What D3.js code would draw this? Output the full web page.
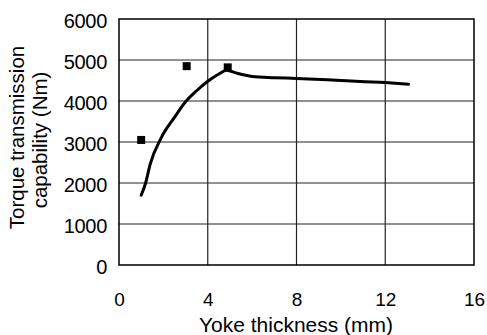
<!DOCTYPE html>
<html>
<head>
<meta charset="utf-8">
<script src="https://cdn.jsdelivr.net/npm/d3@7"></script>
<style>
body { margin: 0; background: #fff; }
text { font-family: "Liberation Sans", Arial, sans-serif; fill: #000; }
</style>
</head>
<body>
<div id="chart"></div>
<script>
"use strict";
(function() {

const WIDTH = 487
const HEIGHT = 335
const margin = { top: 19, bottom: 70, left: 119, right: 13 }

// measured points (squares)
const pointX = [1.0, 3.05, 4.9]
const pointY = [3050, 4850, 4820]

// calculated curve
const lineX = [1.0, 1.2, 1.4, 1.9, 2.5, 3.0, 3.5, 4.0, 4.5, 4.85, 5.3, 6.0, 7.0, 8.0, 10.0, 12.0, 13.05]
const lineY = [1700, 2000, 2450, 3100, 3600, 3980, 4250, 4480, 4660, 4750, 4680, 4600, 4570, 4550, 4500, 4450, 4410]

const xTicks = [0, 4, 8, 12, 16]
const yTicks = [0, 1000, 2000, 3000, 4000, 5000, 6000]

const svg = d3.select("#chart").append("svg")
    .attr("width", WIDTH)
    .attr("height", HEIGHT)

const x = d3.scaleLinear().domain([0, 16]).range([margin.left, WIDTH - margin.right])
const y = d3.scaleLinear().domain([0, 6000]).range([HEIGHT - margin.bottom, margin.top])

// grid
svg.append("g").selectAll("line").data(yTicks.slice(1, -1)).join("line")
    .attr("x1", x(0)).attr("x2", x(16))
    .attr("y1", d => y(d)).attr("y2", d => y(d))
    .attr("stroke", "#222").attr("stroke-width", 1)
svg.append("g").selectAll("line").data(xTicks.slice(1, -1)).join("line")
    .attr("y1", y(0)).attr("y2", y(6000))
    .attr("x1", d => x(d)).attr("x2", d => x(d))
    .attr("stroke", "#222").attr("stroke-width", 1.2)

// frame
svg.append("rect")
    .attr("x", x(0)).attr("y", y(6000))
    .attr("width", x(16) - x(0)).attr("height", y(0) - y(6000))
    .attr("fill", "none").attr("stroke", "#000").attr("stroke-width", 1.5)

// axes (labels only)
const xAxis = svg.append("g")
    .attr("transform", `translate(0, ${y(0) + 27})`)
    .call(d3.axisBottom(x).tickValues(xTicks).tickSize(0).tickPadding(0))
xAxis.selectAll("text").attr("dy", "0.71em").attr("y", 0).attr("font-size", "19px")
const yAxis = svg.append("g")
    .attr("transform", `translate(${x(0) - 12}, 0)`)
    .call(d3.axisLeft(y).tickValues(yTicks).tickSize(0).tickPadding(0).tickFormat(d3.format("d")))
yAxis.selectAll("text").attr("dy", "0.42em").attr("font-size", "20px").attr("letter-spacing", "-0.3px")
;[xAxis, yAxis].forEach(a => {
    a.select(".domain").remove()
    a.selectAll("text").attr("font-family", "Liberation Sans, Arial, sans-serif")
})

// curve
const lineData = lineX.map((d, i) => [d, lineY[i]])
svg.append("path")
    .datum(lineData)
    .attr("d", d3.line().x(d => x(d[0])).y(d => y(d[1])).curve(d3.curveMonotoneX))
    .attr("fill", "none").attr("stroke", "#000").attr("stroke-width", 3)
    .attr("stroke-linejoin", "round").attr("stroke-linecap", "round")

// squares
const S = 8
svg.append("g").selectAll("rect").data(pointX.map((d, i) => [d, pointY[i]])).join("rect")
    .attr("x", d => x(d[0]) - S / 2).attr("y", d => y(d[1]) - S / 2)
    .attr("width", S).attr("height", S).attr("fill", "#000")

// titles
svg.append("text").text("Yoke thickness (mm)")
    .attr("x", 296).attr("y", 332)
    .attr("text-anchor", "middle").attr("font-size", "21px")
svg.append("text").text("Torque transmission")
    .attr("transform", `translate(24, 137.5) rotate(-90)`)
    .attr("text-anchor", "middle").attr("font-size", "20.5px")
svg.append("text").text("capability (Nm)")
    .attr("transform", `translate(47, 140) rotate(-90)`)
    .attr("text-anchor", "middle").attr("font-size", "20.5px")

})();
</script>
</body>
</html>
